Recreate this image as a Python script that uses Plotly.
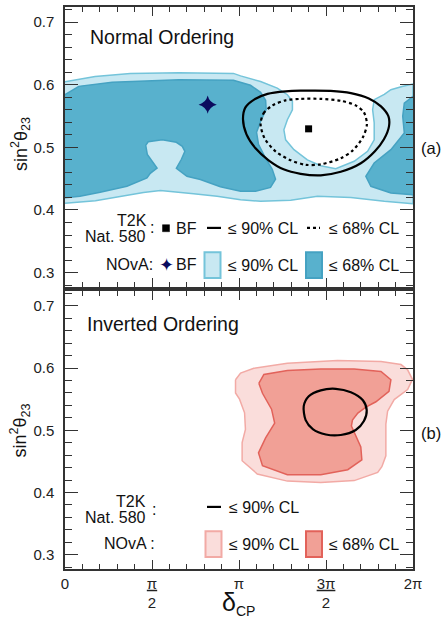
import numpy as np
import plotly.graph_objects as go

# ---------------- data (delta_CP in units of pi, sin^2 theta_23) ----------------
# NOvA, Normal Ordering, 90% CL region
no90_d = [0.000, 0.173, 0.375, 0.655, 0.968, 1.009, 1.124, 1.220, 1.278, 1.307, 1.307, 1.278,
          1.258, 1.268, 1.316, 1.393, 1.470, 1.556, 1.662, 1.739, 1.777, 1.777, 1.768, 1.777,
          1.835, 1.873, 1.937, 2.000,
          2.000, 1.835, 1.643, 1.451, 1.297, 1.124, 1.009, 0.874, 0.739, 0.548, 0.451, 0.175, 0.000]
no90_s = [0.6045, 0.6132, 0.618, 0.619, 0.618, 0.614, 0.605, 0.5946, 0.584, 0.5734, 0.560, 0.544,
          0.528, 0.512, 0.4963, 0.480, 0.4705, 0.4657, 0.4777, 0.4936, 0.512, 0.539, 0.560, 0.576,
          0.5845, 0.592, 0.597, 0.601,
          0.410, 0.4139, 0.420, 0.4219, 0.4155, 0.4139, 0.4163, 0.4219, 0.4258, 0.431, 0.428, 0.4147, 0.4107]

# NOvA, Normal Ordering, 68% CL region (main lobe and wrapped lobe at 2pi)
no68a_d = [0.000, 0.079, 0.271, 0.655, 0.968, 1.066, 1.124, 1.153, 1.156, 1.124, 1.101, 1.112,
           1.147, 1.191, 1.210, 1.181, 1.095, 1.009, 0.893, 0.778, 0.701, 0.640, 0.669, 0.689,
           0.674, 0.640, 0.559, 0.478, 0.464, 0.473, 0.529, 0.490, 0.471, 0.356, 0.202, 0.086, 0.000]
no68a_s = [0.584, 0.5973, 0.604, 0.608, 0.6069, 0.599, 0.5877, 0.575, 0.5606, 0.5415, 0.524, 0.5048,
           0.4856, 0.4649, 0.449, 0.436, 0.4298, 0.4298, 0.437, 0.4485, 0.4537, 0.4665, 0.4809, 0.4936,
           0.5016, 0.508, 0.512, 0.5088, 0.5032, 0.4888, 0.467, 0.4585, 0.451, 0.4378, 0.4282, 0.4219, 0.4195]
no68b_d = [2.000, 1.950, 1.941, 1.950, 1.873, 1.777, 1.729, 1.758, 1.873, 2.000]
no68b_s = [0.5813, 0.5707, 0.5494, 0.5228, 0.4963, 0.475, 0.4537, 0.4378, 0.4271, 0.4242]

# T2K (Nature 580), Normal Ordering contours
t2k_no90_d = [1.023, 1.037, 1.089, 1.164, 1.268, 1.354, 1.527, 1.643, 1.746, 1.816, 1.859, 1.862,
              1.833, 1.781, 1.700, 1.585, 1.470, 1.354, 1.256, 1.170, 1.095, 1.043, 1.023]
t2k_no90_s = [0.5447, 0.5638, 0.5766, 0.5853, 0.5893, 0.5904, 0.5901, 0.5866, 0.5781, 0.5654, 0.5494, 0.5335,
              0.5128, 0.4936, 0.4745, 0.4609, 0.4553, 0.4577, 0.4649, 0.4793, 0.4984, 0.5207, 0.5447]
t2k_no68_d = [1.124, 1.141, 1.193, 1.268, 1.354, 1.470, 1.585, 1.671, 1.718, 1.735, 1.712, 1.654,
              1.585, 1.470, 1.383, 1.297, 1.210, 1.147, 1.124]
t2k_no68_s = [0.5367, 0.5542, 0.567, 0.575, 0.5773, 0.5773, 0.5742, 0.567, 0.5558, 0.5367, 0.516, 0.4952,
              0.4825, 0.4729, 0.4721, 0.4793, 0.4936, 0.5144, 0.5367]

# Best fits
t2k_no_bf = (1.40, 0.5295)
nova_no_bf = (0.82, 0.568)

# NOvA, Inverted Ordering
io90_d = [0.980, 1.009, 1.085, 1.278, 1.566, 1.816, 1.931, 1.969, 1.997, 1.969, 1.892, 1.854, 1.844,
          1.844, 1.821, 1.797, 1.662, 1.470, 1.278, 1.105, 1.018, 1.018, 1.037, 1.032, 1.003, 0.980, 0.980]
io90_s = [0.5813, 0.5919, 0.5998, 0.6078, 0.6121, 0.6105, 0.6057, 0.5973, 0.5818, 0.5654, 0.5494, 0.5308, 0.510,
          0.459, 0.4415, 0.4324, 0.4191, 0.416, 0.4183, 0.4298, 0.451, 0.4802, 0.5016, 0.5281, 0.550, 0.560, 0.5813]
io68_d = [1.114, 1.143, 1.278, 1.470, 1.662, 1.816, 1.873, 1.862, 1.787, 1.729, 1.683, 1.652, 1.646,
          1.662, 1.700, 1.706, 1.625, 1.470, 1.278, 1.135, 1.112, 1.153, 1.205, 1.187, 1.135, 1.114]
io68_s = [0.5755, 0.5898, 0.5962, 0.5986, 0.5986, 0.5946, 0.5813, 0.5627, 0.5459, 0.5372, 0.5276, 0.5164, 0.5069,
          0.4962, 0.4734, 0.4526, 0.4367, 0.4287, 0.4287, 0.443, 0.4637, 0.4877, 0.5117, 0.534, 0.5595, 0.5755]
t2k_io90_d = [1.372, 1.401, 1.470, 1.556, 1.643, 1.712, 1.734, 1.718, 1.671, 1.585, 1.499, 1.424, 1.383, 1.372]
t2k_io90_s = [0.5388, 0.5547, 0.5643, 0.5667, 0.5611, 0.5483, 0.5324, 0.5148, 0.5005, 0.4925, 0.4933, 0.502, 0.5164, 0.5388]

xtick_pi = [0, 0.5, 1, 1.5, 2]
xtick_text = ["0", "<u>π</u><br>2", "π", "<u>3π</u><br>2", "2π"]
ytick_vals = [0.3, 0.4, 0.5, 0.6, 0.7]
ytick_text = ["0.3", "0.4", "0.5", "0.6", "0.7"]

# ---------------- styles ----------------
W, H = 442, 621
ML, MR, MT, MB = 65, 29, 5, 52
FONT = "Liberation Sans"
C_NO_L, C_NO_L_LINE = "#c8e8f2", "#74c4da"
C_NO_D, C_NO_D_LINE = "#58b1cd", "#45a2c2"
C_IO_L, C_IO_L_LINE = "#fadddb", "#f2aaa5"
C_IO_D, C_IO_D_LINE = "#f1a096", "#e2625a"
AX = "#333333"

fig = go.Figure()


def poly(d, s, fill, line, xa, ya, lw=1.5):
    fig.add_trace(go.Scatter(x=np.array(d) * np.pi, y=s, mode="lines", fill="toself",
                             fillcolor=fill, line=dict(color=line, width=lw),
                             xaxis=xa, yaxis=ya, hoverinfo="skip", showlegend=False))


def contour(d, s, dash, xa, ya):
    fig.add_trace(go.Scatter(x=np.array(d) * np.pi, y=s, mode="lines",
                             line=dict(color="black", width=2.2, dash=dash, shape="spline", smoothing=0.8),
                             xaxis=xa, yaxis=ya, hoverinfo="skip", showlegend=False))


# Normal ordering panel (top)
poly(no90_d, no90_s, C_NO_L, C_NO_L_LINE, "x", "y")
poly(no68a_d, no68a_s, C_NO_D, C_NO_D_LINE, "x", "y")
poly(no68b_d, no68b_s, C_NO_D, C_NO_D_LINE, "x", "y")
contour(t2k_no90_d, t2k_no90_s, "solid", "x", "y")
contour(t2k_no68_d, t2k_no68_s, "dot", "x", "y")
fig.add_trace(go.Scatter(x=[t2k_no_bf[0] * np.pi], y=[t2k_no_bf[1]], mode="markers",
                         marker=dict(symbol="square", size=7, color="black"),
                         xaxis="x", yaxis="y", showlegend=False, hoverinfo="skip"))
fig.add_trace(go.Scatter(x=[nova_no_bf[0] * np.pi], y=[nova_no_bf[1]], mode="markers",
                         marker=dict(symbol="star-diamond", size=13, color="#0b0b5e"),
                         xaxis="x", yaxis="y", showlegend=False, hoverinfo="skip"))

# Inverted ordering panel (bottom)
poly(io90_d, io90_s, C_IO_L, C_IO_L_LINE, "x2", "y2")
poly(io68_d, io68_s, C_IO_D, C_IO_D_LINE, "x2", "y2")
contour(t2k_io90_d, t2k_io90_s, "solid", "x2", "y2")

# ---------------- axes ----------------
tickfont = dict(family=FONT, size=15, color="#222")


def xaxis(labels):
    return dict(range=[0, 2 * np.pi], tickmode="array", tickvals=[v * np.pi for v in xtick_pi],
                ticktext=xtick_text, showticklabels=labels, ticks="inside", ticklen=9, tickwidth=1.2,
                tickcolor=AX, showline=True, linecolor=AX, linewidth=1.5, mirror="ticks",
                showgrid=False, zeroline=False, tickfont=tickfont, ticklabelstandoff=0,
                minor=dict(dtick=np.pi / 10, tick0=0, ticks="inside", ticklen=5, tickwidth=1,
                           tickcolor=AX, showgrid=False))


def yaxis(domain):
    return dict(domain=domain, range=[0.277, 0.724], tickmode="array", tickvals=ytick_vals,
                ticktext=ytick_text, ticks="inside", ticklen=13, tickwidth=1.2, tickcolor=AX,
                showline=True, linecolor=AX, linewidth=1.5, mirror="ticks", showgrid=False,
                zeroline=False, tickfont=tickfont, ticklabelstandoff=6,
                minor=dict(dtick=0.02, tick0=0, ticks="inside", ticklen=7, tickwidth=1,
                           tickcolor=AX, showgrid=False))


PW = W - ML - MR
PH = H - MT - MB
top_dom = [(H - MB - 286) / PH, 1.0]
bot_dom = [0.0, (H - MB - 290) / PH]

fig.update_layout(
    width=W, height=H, margin=dict(l=ML, r=MR, t=MT, b=MB),
    paper_bgcolor="white", plot_bgcolor="white", showlegend=False,
    xaxis=dict(**xaxis(False), anchor="y"),
    yaxis=dict(**yaxis(top_dom), anchor="x"),
    xaxis2=dict(**xaxis(True), anchor="y2"),
    yaxis2=dict(**yaxis(bot_dom), anchor="x2"),
)


# ---------------- annotations / legend keys (pixel placed) ----------------
def P(px, py):
    return (px - ML) / PW, (H - MB - py) / PH


def text(s, px, py, size=16, anchor="left", color="#111", family=FONT, angle=0):
    x, y = P(px, py)
    fig.add_annotation(x=x, y=y, xref="paper", yref="paper", text=s, showarrow=False,
                       xanchor=anchor, yanchor="middle", textangle=angle, borderpad=0,
                       font=dict(family=family, size=size, color=color))


def rect(x0, y0, x1, y1, fill, line, lw=1.5):
    a, b = P(x0, y0)
    c, d = P(x1, y1)
    fig.add_shape(type="rect", xref="paper", yref="paper", x0=a, y0=b, x1=c, y1=d,
                  fillcolor=fill, line=dict(color=line, width=lw))


def seg(x0, x1, py, dash="solid"):
    a, b = P(x0, py)
    c, _ = P(x1, py)
    fig.add_shape(type="line", xref="paper", yref="paper", x0=a, y0=b, x1=c, y1=b,
                  line=dict(color="black", width=2.2, dash=dash))


# Panel labels
text("Normal Ordering", 89, 35, size=19.5)
text("Inverted Ordering", 86, 323, size=19.5)
text("(a)", 431, 146, size=16.5, anchor="center")
text("(b)", 431, 433, size=16.5, anchor="center")
text("sin<sup>2</sup>θ<sub>23</sub>", 20, 142.5, size=18, anchor="center", angle=-90)
text("sin<sup>2</sup>θ<sub>23</sub>", 20, 430, size=18, anchor="center", angle=-90)
text("δ<sub><span style='font-size:14px'>CP</span></sub>", 238, 604, size=25, anchor="center")

# Top legend
text("T2K", 148, 219, anchor="right")
text("Nat. 580", 146.5, 235.5, anchor="right")
text(":", 152, 226.5, anchor="center")
rect(162.5, 223.5, 169.5, 230.5, "black", "black", 0.5)
text("BF", 174.5, 227)
seg(207, 221, 226.7)
text("≤ 90% CL", 227, 227)
seg(307, 320, 226.7, "dot")
text("≤ 68% CL", 328, 227)
text("NOvA:", 153.5, 263, anchor="right")
text("✦", 166.5, 263, size=18, anchor="center", color="#0b0b5e", family="DejaVu Sans")
text("BF", 174.5, 263)
rect(204.5, 251, 220.5, 277, C_NO_L, C_NO_L_LINE, 2)
text("≤ 90% CL", 227, 264)
rect(306, 251, 322, 277, C_NO_D, C_NO_D_LINE, 2)
text("≤ 68% CL", 328, 264)

# Bottom legend
text("T2K", 147, 501, anchor="right")
text("Nat. 580", 146.5, 517, anchor="right")
text(":", 154, 509, anchor="center")
seg(207, 221, 506.7)
text("≤ 90% CL", 228, 507)
text("NOvA :", 155.5, 543.5, anchor="right")
rect(205.5, 531, 221.5, 557, C_IO_L, C_IO_L_LINE, 2)
text("≤ 90% CL", 228, 544)
rect(306, 531, 322, 557, C_IO_D, C_IO_D_LINE, 2)
text("≤ 68% CL", 328, 544)

fig.write_html("out.html", config={"displayModeBar": False},
               post_script="document.body.style.margin='0px';document.body.style.overflow='hidden';")
